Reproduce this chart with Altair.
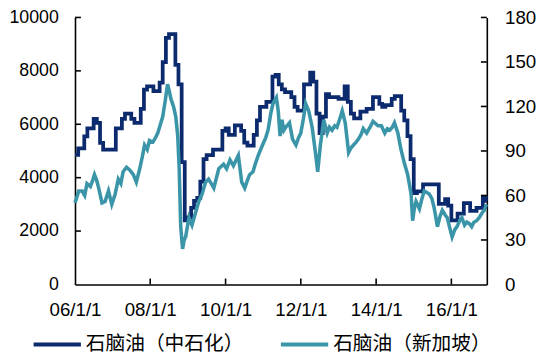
import altair as alt
import pandas as pd

series_names = ["石脑油（中石化）", "石脑油（新加坡）"]
colors = ["#0c2b6e", "#3b95a8"]

# 中石化 naphtha price, yuan/ton, monthly (step), 2006-01 .. 2016-12
navy_2006 = [4850, 5100, 5100, 5550, 5850, 5850, 6200, 6050, 5300, 5050, 5050, 5050]
navy_2007 = [5050, 5850, 5850, 6200, 6400, 6400, 6200, 6050, 6050, 6580, 7300, 7420]
navy_2008 = [7420, 7240, 7240, 7560, 8330, 9240, 9380, 9380, 8220, 7490, 4580, 2400]
navy_2009 = [2510, 2870, 3130, 3240, 3850, 4690, 4840, 4840, 5050, 5050, 5050, 5750]
navy_2010 = [5850, 5600, 5600, 5960, 5960, 5750, 5310, 5200, 5200, 5600, 6150, 6650]
navy_2011 = [6650, 6840, 6840, 7780, 7850, 7490, 7310, 7200, 7200, 7020, 6650, 6510]
navy_2012 = [6510, 7490, 7490, 7930, 7600, 6400, 5670, 6290, 7130, 7020, 7020, 7020]
navy_2013 = [6950, 6950, 7420, 6840, 6400, 6220, 6220, 6470, 6470, 6580, 6580, 7020]
navy_2014 = [7020, 6760, 6650, 6720, 6720, 6950, 7050, 7050, 6510, 6150, 5560, 4690]
navy_2015 = [3420, 3490, 3490, 3750, 3750, 3750, 3750, 3750, 3020, 3020, 3200, 2950]
navy_2016 = [2400, 2400, 2650, 2650, 3050, 3050, 2760, 2760, 2870, 2870, 3240, 3130]

# Singapore naphtha, USD/bbl, (decimal year, value)
teal_t = [2006.00, 2006.04, 2006.10, 2006.19, 2006.26, 2006.32, 2006.41, 2006.47, 2006.52, 2006.58,
          2006.63, 2006.72, 2006.80, 2006.89, 2006.94, 2006.98, 2007.07, 2007.15, 2007.22, 2007.28,
          2007.37, 2007.46, 2007.55, 2007.63, 2007.72, 2007.79, 2007.85, 2007.92, 2007.98, 2008.07,
          2008.14, 2008.20, 2008.27, 2008.33, 2008.40, 2008.46, 2008.51, 2008.55, 2008.62, 2008.68,
          2008.73, 2008.77, 2008.81, 2008.86, 2008.90, 2008.94, 2009.03, 2009.11, 2009.20, 2009.29,
          2009.38, 2009.47, 2009.55, 2009.62, 2009.69, 2009.76, 2009.82, 2009.95, 2010.03, 2010.12,
          2010.21, 2010.34, 2010.43, 2010.51, 2010.58, 2010.64, 2010.73, 2010.80, 2010.87, 2011.00,
          2011.07, 2011.13, 2011.20, 2011.26, 2011.35, 2011.40, 2011.45, 2011.50, 2011.55, 2011.60,
          2011.70, 2011.78, 2011.87, 2011.94, 2012.00, 2012.07, 2012.13, 2012.21, 2012.30, 2012.39,
          2012.45, 2012.52, 2012.61, 2012.70, 2012.76, 2012.83, 2012.90, 2012.96, 2013.04, 2013.10,
          2013.18, 2013.27, 2013.33, 2013.40, 2013.47, 2013.53, 2013.60, 2013.66, 2013.75, 2013.84,
          2013.92, 2014.05, 2014.14, 2014.23, 2014.30, 2014.36, 2014.43, 2014.49, 2014.58, 2014.66,
          2014.75, 2014.84, 2014.93, 2014.97, 2015.02, 2015.06, 2015.15, 2015.22, 2015.28, 2015.41,
          2015.48, 2015.54, 2015.63, 2015.70, 2015.76, 2015.83, 2015.89, 2015.96, 2016.02, 2016.09,
          2016.15, 2016.22, 2016.28, 2016.35, 2016.41, 2016.48, 2016.54, 2016.60, 2016.67, 2016.74,
          2016.81, 2016.87, 2016.93]
teal_v = [55, 58, 63, 63, 60, 68, 66, 70, 74, 70,
          65, 55, 56, 63, 58, 54, 61, 71, 68, 76,
          79, 77, 74, 69, 78, 86, 94, 91, 97, 96,
          99, 102, 108, 113, 124, 135, 130, 125, 120, 113,
          100, 78, 39, 24, 30, 32, 45, 40, 48, 56,
          61, 69, 71, 68, 65, 72, 78, 81, 78, 84,
          80, 87, 69, 65, 70, 74, 76, 82, 87, 95,
          99, 104, 115, 122, 126, 117, 100, 111, 104, 106,
          109, 98, 94, 99, 102, 112, 122, 117, 106, 89,
          76, 94, 111, 102, 106, 104, 107, 106, 112, 117,
          109, 89, 92, 94, 96, 98, 101, 105, 102, 106,
          110, 107, 107, 102, 105, 104, 106, 109, 102, 91,
          82, 74, 61, 43, 52, 56, 51, 58, 63, 61,
          58, 52, 39, 46, 50, 47, 45, 38, 32, 37,
          39, 43, 45, 40, 42, 41, 39, 42, 43, 45,
          48, 50, 54]

left_ticks = [2000, 4000, 6000, 8000, 10000]
right_ticks = [30, 60, 90, 120, 150, 180]
x_tick_dates = ["2008-01-01", "2010-01-01", "2012-01-01", "2014-01-01", "2016-01-01"]
x_label_years = [2006, 2008, 2010, 2012, 2014, 2016]

W, H = 418, 271
FONT = "Liberation Sans"

navy_vals = (navy_2006 + navy_2007 + navy_2008 + navy_2009 + navy_2010 + navy_2011
             + navy_2012 + navy_2013 + navy_2014 + navy_2015 + navy_2016)
navy_dates = list(pd.date_range("2006-01-01", periods=len(navy_vals), freq="MS").strftime("%Y-%m-%d"))
navy_df = pd.DataFrame({"date": navy_dates + ["2016-12-10"],
                        "v": navy_vals + [navy_vals[-1]],
                        "s": series_names[0]})

base_day = pd.Timestamp("2006-01-01")
teal_dates = [(base_day + pd.Timedelta(days=(t - 2006) * 365.25)).strftime("%Y-%m-%d") for t in teal_t]
teal_df = pd.DataFrame({"date": teal_dates, "v": teal_v, "s": series_names[1]})

x_enc = alt.X(
    "date:T",
    scale=alt.Scale(type="utc",
                    domain=[alt.DateTime(year=2006, month=1, date=1, utc=True),
                            alt.DateTime(year=2016, month=12, date=10, utc=True)]),
    axis=alt.Axis(values=[alt.DateTime(year=y, month=1, date=1, utc=True) for y in x_label_years],
                  format="%y/%-m/%-d", ticks=False, labelPadding=16, title=None, grid=False,
                  domainColor="black", domainWidth=1.6, labelFont=FONT, labelFontSize=19,
                  labelColor="black", labelFlush=False),
)

color_enc = alt.Color("s:N", scale=alt.Scale(domain=series_names, range=colors),
                      legend=alt.Legend(title=None, orient="none", legendX=-44, legendY=306,
                                        direction="horizontal", symbolType="stroke",
                                        symbolSize=2304, symbolStrokeWidth=4,
                                        labelFont="Noto Sans CJK SC", labelFontSize=20,
                                        labelLimit=400, labelColor="black", labelOffset=3,
                                        columnPadding=30, padding=0))

navy_line = alt.Chart(navy_df).mark_line(strokeWidth=3.8, interpolate="step-after").encode(
    x=x_enc,
    y=alt.Y("v:Q", scale=alt.Scale(domain=[0, 10000]),
            axis=alt.Axis(orient="left", values=[0] + left_ticks, format="d", ticks=False,
                          labelPadding=17, title=None, grid=False, domainColor="black",
                          domainWidth=1.6, labelFont=FONT, labelFontSize=18, labelColor="black")),
    color=color_enc,
)

teal_line = alt.Chart(teal_df).mark_line(strokeWidth=3.6).encode(
    x=x_enc,
    y=alt.Y("v:Q", scale=alt.Scale(domain=[0, 180]),
            axis=alt.Axis(orient="right", values=[0] + right_ticks, format="d", ticks=False,
                          labelPadding=18, title=None, grid=False, domainColor="black",
                          domainWidth=1.6, labelFont=FONT, labelFontSize=19, labelColor="black")),
    color=color_enc,
)

left_tick_layer = alt.Chart(pd.DataFrame({"v": left_ticks})).mark_rule(color="black", strokeWidth=1.6).encode(
    y=alt.Y("v:Q", scale=alt.Scale(domain=[0, 10000]), axis=None),
    x=alt.value(0), x2=alt.value(6),
)
right_tick_layer = alt.Chart(pd.DataFrame({"v": right_ticks})).mark_rule(color="black", strokeWidth=1.6).encode(
    y=alt.Y("v:Q", scale=alt.Scale(domain=[0, 180]), axis=None),
    x=alt.value(W - 6), x2=alt.value(W),
)
x_tick_layer = alt.Chart(pd.DataFrame({"date": x_tick_dates})).mark_rule(color="black", strokeWidth=1.6).encode(
    x=x_enc,
    y=alt.value(H), y2=alt.value(H - 6),
)

chart = alt.layer(navy_line, teal_line, left_tick_layer, right_tick_layer, x_tick_layer).resolve_scale(
    y="independent"
).properties(
    width=W, height=H,
    padding={"left": 68, "top": 7, "right": 56, "bottom": 70},
    autosize=alt.AutoSizeParams(type="none"),
).configure_view(stroke=None)

chart.save("out.html", embed_options={"renderer": "svg", "actions": False})
